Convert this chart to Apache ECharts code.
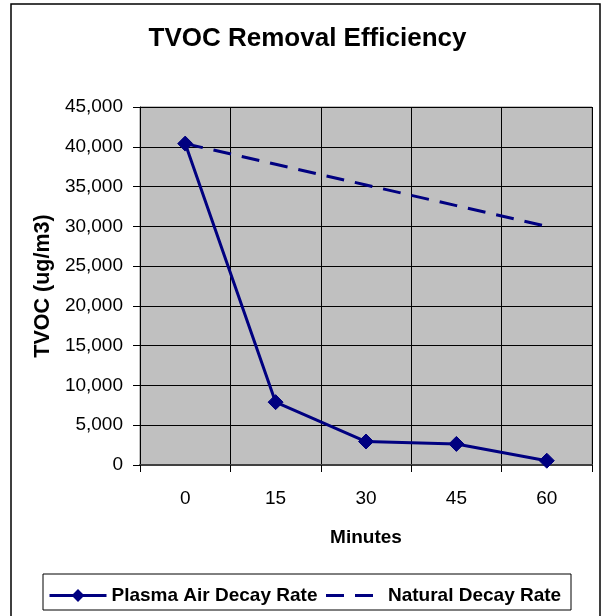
<!DOCTYPE html>
<html>
<head>
<meta charset="utf-8">
<script src="https://cdn.jsdelivr.net/npm/echarts@6/dist/echarts.min.js"></script>
<style>
html,body{margin:0;padding:0;background:#fff;}
#chart{width:605px;height:616px;}
</style>
</head>
<body>
<div id="chart"></div>
<script>
var categories = ['0', '15', '30', '45', '60'];
var plasmaValues = [40400, 7900, 2950, 2650, 540];
var naturalValues = [40400, 37800, 35200, 32600, 30000];
var yTicks = { min: 0, max: 45000, interval: 5000 };
var titleText = 'TVOC Removal Efficiency';
var xName = 'Minutes';
var yName = 'TVOC (ug/m3)';
var seriesNames = ['Plasma Air Decay Rate', 'Natural Decay Rate'];

var FONT = '"Liberation Sans", Arial, sans-serif';
var NAVY = '#000080';

function fmt(v) {
  return String(v).replace(/\B(?=(\d{3})+(?!\d))/g, ',');
}

var chart = echarts.init(document.getElementById('chart'), null, { renderer: 'canvas' });
chart.setOption({
  backgroundColor: '#ffffff',
  animation: false,
  textStyle: { fontFamily: FONT },
  graphic: [
    { type: 'rect', z: 0, shape: { x: 11, y: 4, width: 589, height: 615 },
      style: { fill: 'none', stroke: '#000', lineWidth: 1.5 } },
    { type: 'text', z: 5, x: 307.5, y: 39,
      style: { text: titleText, font: 'bold 26px ' + FONT, fill: '#000', textAlign: 'center', textVerticalAlign: 'middle' } },
    { type: 'rect', z: 0, shape: { x: 43, y: 574, width: 528, height: 36 },
      style: { fill: 'none', stroke: '#000', lineWidth: 1 } }
  ],
  grid: {
    left: 140, right: 13, top: 107, bottom: 151,
    show: true, backgroundColor: '#c0c0c0', borderColor: '#808080', borderWidth: 1
  },
  legend: [
    {
      left: 48, top: 586, padding: 0, itemWidth: 57, itemHeight: 16,
      data: [seriesNames[0]],
      lineStyle: { color: NAVY, width: 3 },
      textStyle: { fontFamily: FONT, fontSize: 19, fontWeight: 'bold', color: '#000' }
    },
    {
      left: 326, top: 586, padding: 0, itemWidth: 47, itemHeight: 3,
      data: [{ name: seriesNames[1], icon: 'path://M0,0H18V3H0Z M29,0H47V3H29Z' }],
      itemStyle: { color: NAVY, borderWidth: 0 },
      textStyle: { fontFamily: FONT, fontSize: 19, fontWeight: 'bold', color: '#000', padding: [0, 0, 0, 10] }
    }
  ],
  xAxis: {
    type: 'category',
    data: categories,
    boundaryGap: true,
    name: xName,
    nameLocation: 'middle',
    nameGap: 63,
    nameTextStyle: { fontFamily: FONT, fontSize: 19, fontWeight: 'bold', color: '#000' },
    axisLine: { show: true, lineStyle: { color: '#404040', width: 2 } },
    axisTick: { show: true, alignWithLabel: false, length: 7, lineStyle: { color: '#000', width: 1 } },
    axisLabel: { margin: 24, fontFamily: FONT, fontSize: 19, color: '#000' },
    splitLine: { show: true, lineStyle: { color: '#000', width: 1 } }
  },
  yAxis: {
    type: 'value',
    min: yTicks.min, max: yTicks.max, interval: yTicks.interval,
    name: yName,
    nameLocation: 'middle',
    nameGap: 75,
    nameTextStyle: { fontFamily: FONT, fontSize: 21.5, fontWeight: 'bold', color: '#000' },
    axisLine: { show: true, lineStyle: { color: '#000', width: 1 } },
    axisTick: { show: true, length: 7, lineStyle: { color: '#000', width: 1 } },
    axisLabel: { margin: 17, fontFamily: FONT, fontSize: 19, color: '#000', formatter: fmt },
    splitLine: { show: true, lineStyle: { color: '#000', width: 1 } }
  },
  series: [
    {
      name: seriesNames[0],
      type: 'line',
      data: plasmaValues,
      symbol: 'diamond',
      symbolSize: 15,
      showAllSymbol: true,
      z: 4,
      lineStyle: { color: NAVY, width: 3 },
      itemStyle: { color: NAVY, borderColor: NAVY }
    },
    {
      name: seriesNames[1],
      type: 'line',
      data: naturalValues,
      symbol: 'none',
      z: 3,
      lineStyle: { color: NAVY, width: 3, type: [18, 11] },
      itemStyle: { color: NAVY }
    }
  ]
});
</script>
</body>
</html>
